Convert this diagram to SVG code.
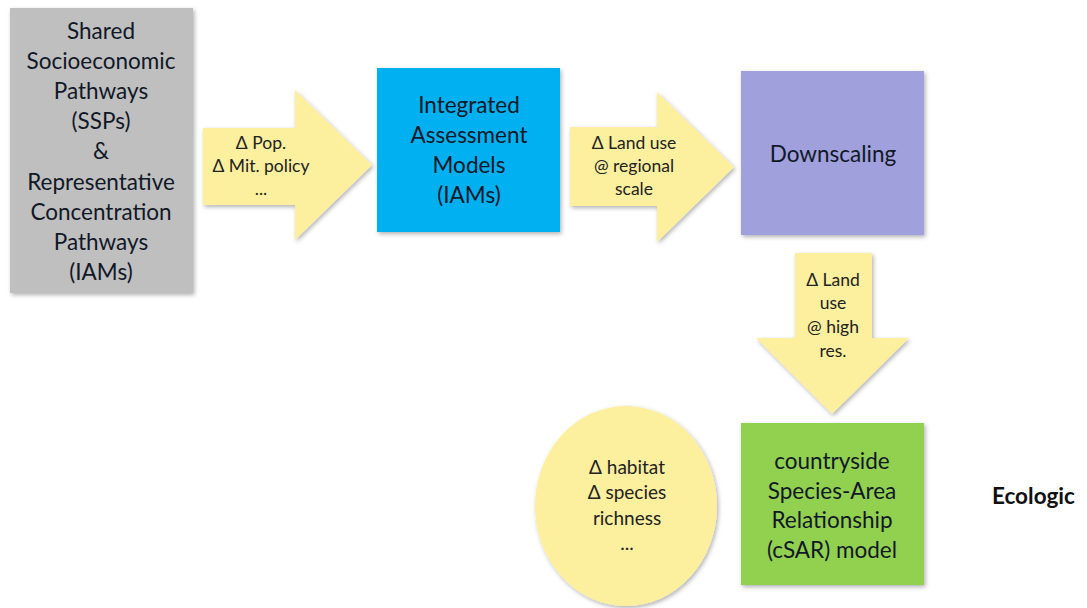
<svg xmlns="http://www.w3.org/2000/svg" width="1087" height="608" viewBox="0 0 1087 608">
  <defs>
    <filter id="shadow" x="-10%" y="-10%" width="130%" height="130%">
      <feDropShadow dx="1.5" dy="2" stdDeviation="2" flood-color="#000" flood-opacity="0.3"/>
    </filter>
    <style>
      .box { filter: url(#shadow); }
      .arrow { fill: #fcef9e; filter: url(#shadow); }
      .big { font-family: Lato, "Liberation Sans", sans-serif; font-size: 22.5px; fill: #111827; text-anchor: middle; }
      .small { font-family: Lato, "Liberation Sans", sans-serif; font-size: 17.5px; fill: #222; text-anchor: middle; }
      .ell { font-family: Lato, "Liberation Sans", sans-serif; font-size: 19px; fill: #222; text-anchor: middle; }
      .label { font-family: Lato, "Liberation Sans", sans-serif; font-size: 22.5px; font-weight: bold; fill: #111; }
    </style>
  </defs>
  <rect width="1087" height="608" fill="#ffffff"/>

  <!-- flow arrows -->
  <g id="connectors">
    <g id="arrow-ssp-iam">
      <polygon class="arrow" points="203,128 295,128 295,90 372,165 295,240 295,205 203,205"/>
      <text class="small" x="261" y="149">Δ Pop.</text>
      <text class="small" x="261" y="172">Δ Mit. policy</text>
      <text class="small" x="261" y="195">...</text>
    </g>
    <g id="arrow-iam-down">
      <polygon class="arrow" points="570,127 657,127 657,92 734,167 657,242 657,206 570,206"/>
      <text class="small" x="634" y="149">Δ Land use</text>
      <text class="small" x="634" y="172">@ regional</text>
      <text class="small" x="634" y="195">scale</text>
    </g>
    <g id="arrow-down-csar">
      <polygon class="arrow" points="795,253 872,253 872,338 909,338 832,414 756,338 795,338"/>
      <text class="small" x="833" y="286">Δ Land</text>
      <text class="small" x="833" y="309">use</text>
      <text class="small" x="833" y="333">@ high</text>
      <text class="small" x="833" y="357">res.</text>
    </g>
  </g>

  <g id="ssp-rcp">
    <rect class="box" x="10" y="8" width="183" height="285" fill="#bfbfbf"/>
    <text class="big" x="101" y="39">Shared</text>
    <text class="big" x="101" y="69">Socioeconomic</text>
    <text class="big" x="101" y="99">Pathways</text>
    <text class="big" x="101" y="129">(SSPs)</text>
    <text class="big" x="101" y="159">&amp;</text>
    <text class="big" x="101" y="190">Representative</text>
    <text class="big" x="101" y="220">Concentration</text>
    <text class="big" x="101" y="250">Pathways</text>
    <text class="big" x="101" y="280">(IAMs)</text>
  </g>

  <g id="iam">
    <rect class="box" x="377" y="68" width="183" height="164" fill="#00b0f0"/>
    <text class="big" x="469" y="113">Integrated</text>
    <text class="big" x="469" y="143">Assessment</text>
    <text class="big" x="469" y="173">Models</text>
    <text class="big" x="469" y="203">(IAMs)</text>
  </g>

  <g id="downscaling">
    <rect class="box" x="741" y="71" width="183" height="164" fill="#a0a0dc"/>
    <text class="big" x="833" y="162">Downscaling</text>
  </g>

  <g id="csar">
    <rect class="box" x="741" y="423" width="183" height="162" fill="#92d050"/>
    <text class="big" x="832" y="469">countryside</text>
    <text class="big" x="832" y="499">Species-Area</text>
    <text class="big" x="832" y="528">Relationship</text>
    <text class="big" x="832" y="558">(cSAR) model</text>
  </g>

  <g id="outputs">
    <ellipse class="box" cx="626" cy="506" rx="91" ry="100" fill="#fcef9e"/>
    <text class="ell" x="627" y="474">Δ habitat</text>
    <text class="ell" x="627" y="499">Δ species</text>
    <text class="ell" x="627" y="525">richness</text>
    <text class="ell" x="627" y="550">...</text>
  </g>

  <g id="ecologic">
    <text class="label" x="992" y="504">Ecologic</text>
  </g>
</svg>
